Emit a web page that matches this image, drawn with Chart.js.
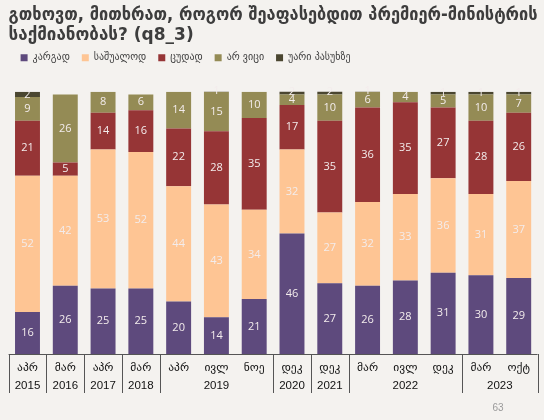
<!DOCTYPE html>
<html>
<head>
<meta charset="utf-8">
<script src="https://cdn.jsdelivr.net/npm/chart.js@4"></script>
<style>
html,body{margin:0;padding:0;background:#f4f2ef;}
#wrap{width:544px;height:420px;position:relative;}
</style>
</head>
<body>
<div id="wrap"><canvas id="c" width="544" height="420"></canvas></div>
<script>
const months = ["აპრ","მარ","აპრ","მარ","აპრ","ივლ","ნოე","დეკ","დეკ","მარ","ივლ","დეკ","მარ","ოქტ"];
const yearGroups = [["2015",1],["2016",1],["2017",1],["2018",1],["2019",3],["2020",1],["2021",1],["2022",3],["2023",2]];
const seriesNames = ["კარგად","საშუალოდ","ცუდად","არ ვიცი","უარი პასუხზე"];
const good    = [16,26,25,25,20,14,21,46,27,26,28,31,30,29];
const average = [52,42,53,52,44,43,34,32,27,32,33,36,31,37];
const bad     = [21,5,14,16,22,28,35,17,35,36,35,27,28,26];
const dontKnow= [9,26,8,6,14,15,10,4,10,6,4,5,10,7];
const refused = [2,0,0,0,0,1,0,2,2,1,0,1,1,1];
const colors = ["#5e4a7d","#fec594","#963536","#948b55","#4a4630"];
const titleLines = ["გთხოვთ, მითხრათ, როგორ შეაფასებდით პრემიერ-მინისტრის","საქმიანობას? (q8_3)"];

const FONT = "'DejaVu Sans', 'Noto Sans', sans-serif";

const bgPlugin = {
  id:'bg',
  beforeDraw(chart){
    const c = chart.ctx; c.save(); c.fillStyle = '#f4f2ef';
    c.fillRect(0,0,chart.width,chart.height); c.restore();
  }
};

const labelPlugin = {
  id:'vals',
  afterDatasetsDraw(chart){
    const c = chart.ctx; c.save();
    c.font = "11px 'Open Sans', sans-serif";
    c.fillStyle = '#f3ecec';
    c.textAlign = 'center'; c.textBaseline = 'middle';
    chart.data.datasets.forEach((ds,di)=>{
      const meta = chart.getDatasetMeta(di);
      meta.data.forEach((el,i)=>{
        const v = ds.data[i];
        if(!v) return;
        const y = (el.y + el.base)/2;
        c.fillText(String(v), el.x, y);
      });
    });
    c.restore();
  }
};

const axisPlugin = {
  id:'axisGroups',
  afterDraw(chart){
    const c = chart.ctx; const xs = chart.scales.x; const area = chart.chartArea;
    const step = (xs.getPixelForValue(1) - xs.getPixelForValue(0));
    c.save();
    c.strokeStyle = '#555'; c.lineWidth = 1;
    c.beginPath(); c.moveTo(area.left, area.bottom+0.5); c.lineTo(area.right, area.bottom+0.5); c.stroke();
    let idx = 0;
    const drawSep = (x)=>{ c.beginPath(); c.moveTo(Math.round(x)+0.5, area.bottom); c.lineTo(Math.round(x)+0.5, area.bottom+39); c.stroke(); };
    drawSep(xs.getPixelForValue(0) - step/2);
    c.font = "11.5px 'Liberation Sans', sans-serif";
    c.fillStyle = '#111'; c.textAlign='center'; c.textBaseline='middle';
    yearGroups.forEach(([yr,n])=>{
      const x0 = xs.getPixelForValue(idx) - step/2;
      const x1 = xs.getPixelForValue(idx+n-1) + step/2;
      c.fillText(yr, (x0+x1)/2, area.bottom+32);
      drawSep(x1);
      idx += n;
    });
    c.font = "10px 'Liberation Sans', sans-serif";
    c.fillStyle = '#9a9a9a';
    c.fillText("63", 498, 408);
    c.restore();
  }
};

const datasets = [good,average,bad,dontKnow,refused].map((d,i)=>({
  label: seriesNames[i], data: d, backgroundColor: colors[i],
  borderWidth: 0, barPercentage: 0.66, categoryPercentage: 1.0
}));

new Chart(document.getElementById('c'), {
  type:'bar',
  data:{ labels: months, datasets },
  options:{
    responsive:false, animation:false, devicePixelRatio:1,
    layout:{ padding:{ left:8.6, right:6.4, top:0, bottom:0 } },
    plugins:{
      tooltip:{enabled:false},
      title:{ display:true, text:titleLines, align:'start', color:'#3d3d3d',
        font:{ family:FONT, size:17, weight:'bold', lineHeight:1.2 },
        padding:{ top:5, bottom:-5 } },
      subtitle:{ display:true, text:' ', weight:500, position:'top',
        font:{ size:10 }, padding:{ top:0, bottom:7 } },
      legend:{ display:true, align:'start',
        labels:{ boxWidth:7, boxHeight:7, padding:12, color:'#404040',
          font:{ family:FONT, size:10 } } }
    },
    scales:{
      x:{ stacked:true, grid:{display:false, drawTicks:false}, border:{display:false},
        ticks:{ color:'#111', font:{ family:FONT, size:11.5 }, padding:7, maxRotation:0, autoSkip:false },
        afterFit(s){ s.height = 66; } },
      y:{ stacked:true, display:false, min:0, max:100 }
    }
  },
  plugins:[bgPlugin, labelPlugin, axisPlugin]
});
</script>
</body>
</html>
